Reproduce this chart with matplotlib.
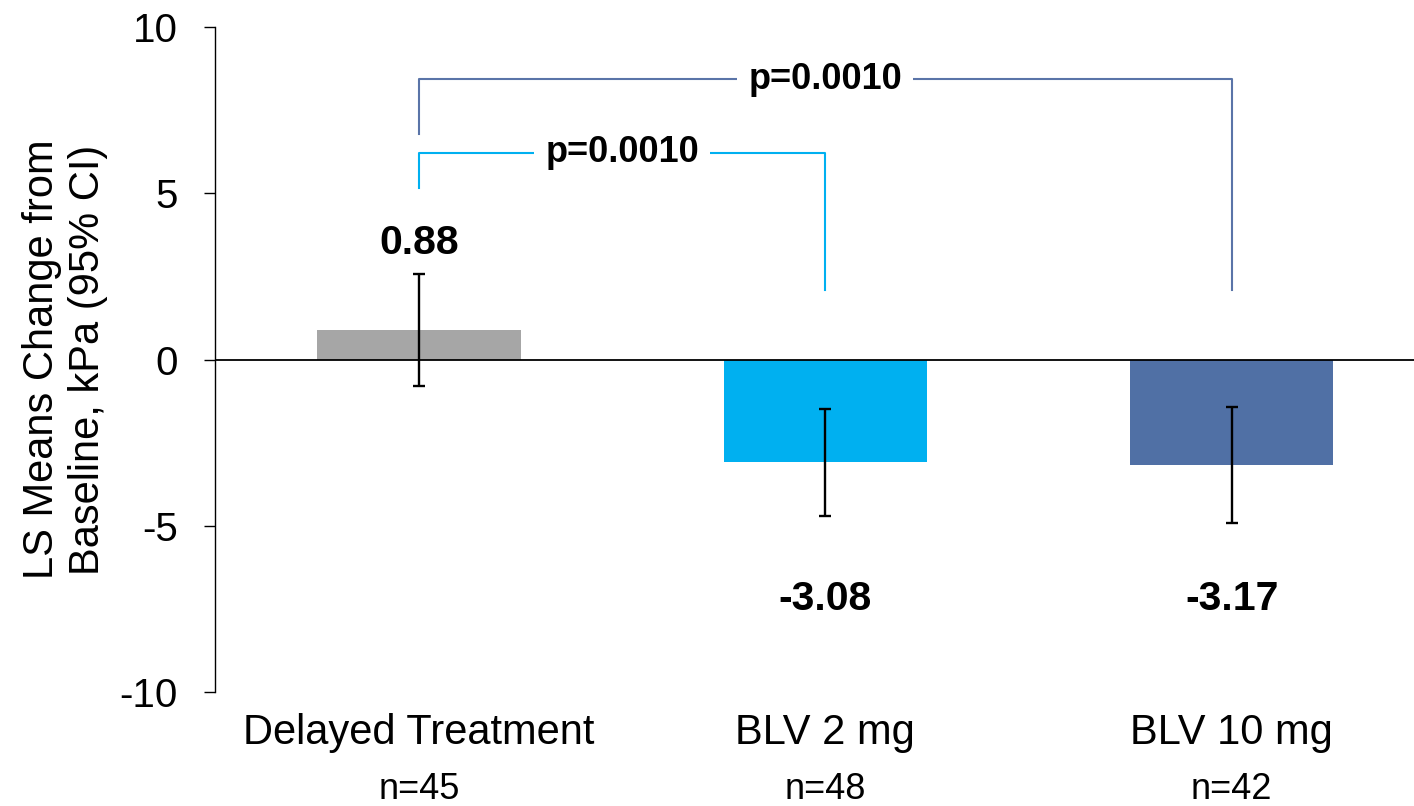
import matplotlib
matplotlib.use("Agg")
import matplotlib.pyplot as plt
import numpy as np

plt.rcParams['font.family'] = ['Liberation Sans', 'DejaVu Sans']
plt.rcParams['axes.unicode_minus'] = False

# data
groups = ["Delayed Treatment", "BLV 2 mg", "BLV 10 mg"]
n_labels = ["n=45", "n=48", "n=42"]
ls_means = [0.88, -3.08, -3.17]
ci_low = [-0.80, -4.71, -4.93]
ci_high = [2.57, -1.48, -1.44]
bar_colors = ["#A6A6A6", "#00B0F0", "#5070A5"]

# comparisons vs delayed treatment: (from, to, p text)
comparisons = [(0, 1, "p=0.0010"), (0, 2, "p=0.0010")]
bracket_colors = ["#00B0F0", "#5A74A8"]
bracket_tops = [6.22, 8.43]
bracket_left_ends = [5.15, 6.78]
bracket_right_end = 2.09

fig = plt.figure(figsize=(14.14, 8.06), dpi=100)
ax = fig.add_axes([0.1521, 0.1414, 0.8479, 0.8251])

x = np.arange(len(groups))
means = np.array(ls_means)
yerr = np.array([means - np.array(ci_low), np.array(ci_high) - means])

ax.bar(x, means, width=0.5, color=bar_colors, zorder=2)
ax.errorbar(x, means, yerr=yerr, fmt='none', ecolor='black', elinewidth=1.7,
            capsize=4, capthick=1.7, zorder=3)
ax.axhline(0, color='black', lw=1.3, zorder=2)

# value labels
for i, v in enumerate(ls_means):
    ty = ci_high[i] + 0.93 if v > 0 else -7.2
    ax.text(i, ty, f"{v:.2f}", ha='center', va='center', fontsize=29.5,
            fontweight='bold')

# significance brackets
for (a, b, txt), col, top, lend in zip(comparisons, bracket_colors,
                                       bracket_tops, bracket_left_ends):
    ax.plot([a, a, b, b], [lend, top, top, bracket_right_end], color=col,
            lw=1.5, zorder=1)
    ax.text((a + b) / 2, top, txt, ha='center', va='center', fontsize=26,
            fontweight='bold', zorder=4,
            bbox=dict(facecolor='white', edgecolor='none', pad=8))

ax.set_xlim(-0.502, 2.449)
ax.set_ylim(-10, 10)
ax.set_yticks([-10, -5, 0, 5, 10])
ax.set_yticklabels(["-10", "-5", "0", "5", "10"])
ax.tick_params(axis='y', labelsize=29, length=8, width=1, pad=19)
ax.set_xticks([])
for side in ['top', 'right', 'bottom']:
    ax.spines[side].set_visible(False)
ax.spines['left'].set_linewidth(1)

ax.set_ylabel("LS Means Change from\nBaseline, kPa (95% CI)", fontsize=30,
              linespacing=1.2)
ax.yaxis.set_label_coords(-0.089, 0.5)

trans = ax.get_xaxis_transform()
for i in x:
    ax.text(i, -0.062, groups[i], ha='center', va='center', fontsize=30,
            transform=trans)
    ax.text(i, -0.146, n_labels[i], ha='center', va='center', fontsize=26,
            transform=trans)

fig.savefig("out.png", dpi=100)
